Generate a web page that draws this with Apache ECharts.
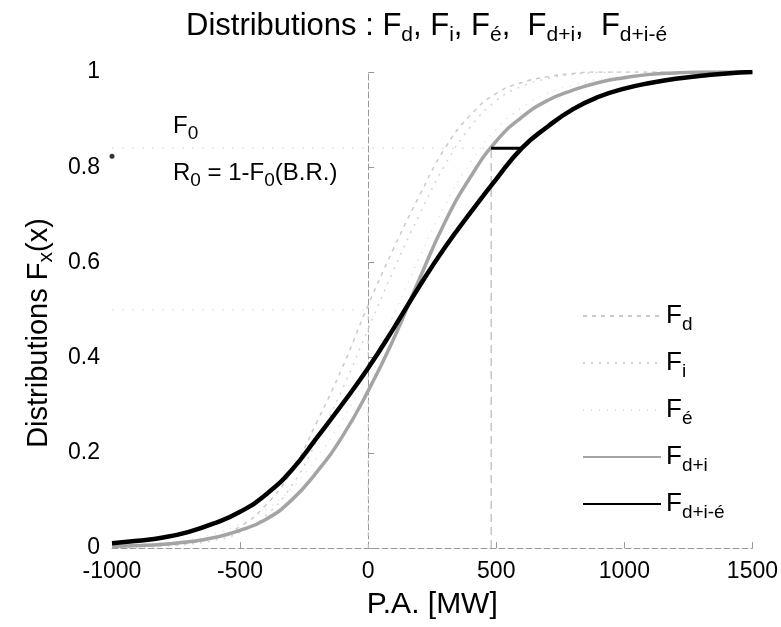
<!DOCTYPE html>
<html>
<head>
<meta charset="utf-8">
<script src="https://cdn.jsdelivr.net/npm/echarts@6/dist/echarts.min.js"></script>
<style>
  html, body { margin: 0; padding: 0; background: #fff; }
  #chart { width: 781px; height: 627px; }
</style>
</head>
<body>
<div id="chart"></div>
<script>
// P.A. [MW] grid
const xs = [-1000, -900, -800, -700, -600, -500, -400, -300, -200, -100, 0, 100, 200,
  300, 400, 500, 600, 700, 800, 900, 1000, 1100, 1200, 1300, 1400, 1500]

const fD = [0.002, 0.003, 0.005, 0.01, 0.022, 0.045, 0.09, 0.16, 0.265, 0.38, 0.51, 0.63, 0.74,
  0.84, 0.91, 0.955, 0.978, 0.99, 0.997, 1, 1, 1, 1, 1, 1, 1]
const fI = [0.001, 0.002, 0.004, 0.008, 0.016, 0.033, 0.068, 0.13, 0.225, 0.335, 0.46, 0.585, 0.7,
  0.805, 0.885, 0.94, 0.97, 0.986, 0.995, 0.999, 1, 1, 1, 1, 1, 1]
const fE = [0.004, 0.007, 0.011, 0.018, 0.03, 0.05, 0.08, 0.125, 0.19, 0.27, 0.37, 0.49, 0.61,
  0.72, 0.81, 0.88, 0.925, 0.955, 0.973, 0.985, 0.992, 0.997, 1, 1, 1, 1]
const fDI = [0.003, 0.005, 0.008, 0.013, 0.022, 0.037, 0.06, 0.1, 0.16, 0.235, 0.33, 0.44, 0.565,
  0.685, 0.78, 0.855, 0.905, 0.94, 0.962, 0.978, 0.988, 0.995, 0.998, 1, 1, 1]
const fDIE = [0.01, 0.015, 0.022, 0.034, 0.052, 0.076, 0.112, 0.163, 0.232, 0.303, 0.378, 0.462, 0.55,
  0.632, 0.705, 0.775, 0.84, 0.885, 0.922, 0.948, 0.965, 0.977, 0.986, 0.992, 0.997, 1]

// reference levels
const brX = 480 // B.R.
const f0Level = 0.84
const f0EndX = 600
const medianLevel = 0.5
const medianX = 0

const names = ['F_d', 'F_i', 'F_é', 'F_d+i', 'F_d+i-é']

const pts = (ys) => xs.map((x, i) => [x, ys[i]])

const sub = (name) => {
  const p = name.split('_')
  return '{b|' + p[0] + '}{s|' + p[1] + '}'
}

const font = 'Liberation Sans'

// base text + lowered subscript
const richSub = (size, subSize, drop, key = 'color') => ({
  b: { fontFamily: font, fontSize: size, lineHeight: size, verticalAlign: 'top', [key]: '#000' },
  s: { fontFamily: font, fontSize: subSize, lineHeight: subSize, verticalAlign: 'top', padding: [drop, 0, 0, 0], [key]: '#000' },
})

const chart = echarts.init(document.getElementById('chart'))

chart.setOption({
  animation: false,
  textStyle: { fontFamily: font, color: '#000' },
  title: {
    left: 181,
    top: 6,
    text: '{b|Distributions : F}{s|d}{b|, F}{s|i}{b|, F}{s|é}{b|,  F}{s|d+i}{b|,  F}{s|d+i-é}',
    textStyle: {
      fontWeight: 'normal',
      rich: richSub(31, 21, 14),
    },
  },
  legend: {
    orient: 'vertical',
    left: 577,
    top: 298,
    itemWidth: 78,
    itemHeight: 10,
    itemGap: 16,
    data: names,
    formatter: sub,
    itemStyle: { opacity: 0 },
    textStyle: {
      rich: richSub(26, 19, 12),
    },
  },
  grid: {
    left: 112,
    right: 26,
    top: 72,
    bottom: 79,
  },
  xAxis: {
    type: 'value',
    min: -1000,
    max: 1500,
    interval: 500,
    name: 'P.A. [MW]',
    nameLocation: 'middle',
    nameGap: 42,
    nameTextStyle: { fontSize: 30, fontFamily: font, color: '#000' },
    axisLine: { lineStyle: { color: '#9a9a9a', type: [6, 3], width: 1 } },
    axisTick: { inside: true, length: 6, lineStyle: { color: '#999' } },
    axisLabel: { fontSize: 23, color: '#000', margin: 12, formatter: (v) => String(v) },
    splitLine: { show: false },
  },
  yAxis: {
    type: 'value',
    min: 0,
    max: 1,
    interval: 0.2,
    name: '{b|Distributions F}{s|x}{b|(x)}',
    nameLocation: 'middle',
    nameRotate: 90,
    nameGap: 56,
    nameTextStyle: {
      padding: [0, 46, 0, 0],
      rich: richSub(29, 21, 12),
    },
    axisLine: { show: true, lineStyle: { color: '#9a9a9a', type: [6, 3], width: 1 } },
    axisTick: { show: true, inside: true, length: 6, lineStyle: { color: '#999' } },
    axisLabel: { fontSize: 23, color: '#000', margin: 12 },
    splitLine: { show: false },
  },
  graphic: [
    {
      type: 'text',
      left: 173,
      top: 114,
      style: {
        text: '{b|F}{s|0}',
        rich: richSub(24, 19, 10, 'fill'),
      },
    },
    {
      type: 'text',
      left: 173,
      top: 161,
      style: {
        text: '{b|R}{s|0}{b| = 1-F}{s|0}{b|(B.R.)}',
        rich: richSub(24, 19, 10, 'fill'),
      },
    },
  ],
  series: [
    {
      name: names[0],
      type: 'line',
      smooth: true,
      symbol: 'none',
      data: pts(fD),
      lineStyle: { color: '#cacaca', width: 1.5, type: [4, 5] },
      itemStyle: { color: '#cacaca' },
      z: 2,
    },
    {
      name: names[1],
      type: 'line',
      smooth: true,
      symbol: 'none',
      data: pts(fI),
      lineStyle: { color: '#d4d4d4', width: 1.5, type: [2, 6] },
      itemStyle: { color: '#d4d4d4' },
      z: 2,
    },
    {
      name: names[2],
      type: 'line',
      smooth: true,
      symbol: 'none',
      data: pts(fE),
      lineStyle: { color: '#dcdcdc', width: 1.5, type: [1, 7] },
      itemStyle: { color: '#dcdcdc' },
      z: 2,
    },
    {
      name: names[3],
      type: 'line',
      smooth: true,
      symbol: 'none',
      data: pts(fDI),
      lineStyle: { color: '#a4a4a4', width: 3.5 },
      itemStyle: { color: '#a4a4a4' },
      z: 3,
    },
    {
      name: names[4],
      type: 'line',
      smooth: true,
      symbol: 'none',
      data: pts(fDIE),
      lineStyle: { color: '#000', width: 4.5 },
      itemStyle: { color: '#000' },
      z: 4,
    },
    // B.R. reference lines
    {
      type: 'line',
      symbol: 'none',
      data: [[-1000, f0Level], [brX, f0Level]],
      lineStyle: { color: '#d8d8d8', width: 1, type: [2, 8] },
      z: 1,
    },
    {
      type: 'line',
      symbol: 'none',
      data: [[brX, 0], [brX, f0Level]],
      lineStyle: { color: '#aaa', width: 1, type: [8, 5] },
      z: 1,
    },
    {
      type: 'line',
      symbol: 'none',
      data: [[brX, f0Level], [f0EndX, f0Level]],
      lineStyle: { color: '#000', width: 3 },
      z: 5,
    },
    // median reference lines
    {
      type: 'line',
      symbol: 'none',
      data: [[-1000, medianLevel], [medianX, medianLevel]],
      lineStyle: { color: '#dcdcdc', width: 1, type: [2, 8] },
      z: 1,
    },
    {
      type: 'line',
      symbol: 'none',
      data: [[medianX, 0], [medianX, medianLevel]],
      lineStyle: { color: '#d0d0d0', width: 1, type: [4, 8] },
      z: 1,
    },
    {
      type: 'scatter',
      symbolSize: 5,
      data: [[-1000, 0.823]],
      itemStyle: { color: '#000' },
      z: 6,
    },
  ],
})
</script>
</body>
</html>
